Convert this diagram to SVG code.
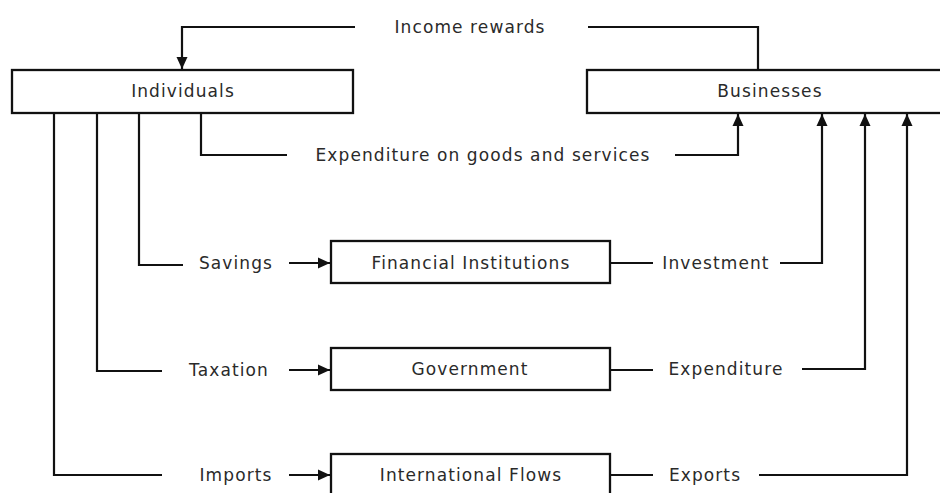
<svg xmlns="http://www.w3.org/2000/svg" width="940" height="493" viewBox="0 0 940 493">
<style>
.box{fill:#fff;stroke:#111;stroke-width:2.3}
.ln{fill:none;stroke:#111;stroke-width:2.2}
.t{font-family:"DejaVu Sans",Verdana,sans-serif;font-size:17px;letter-spacing:1.1px;fill:#2a2a2a;text-anchor:middle}
</style>
<defs>
<marker id="ah" markerUnits="userSpaceOnUse" markerWidth="13" markerHeight="13" viewBox="0 0 13 13" refX="12" refY="6.5" orient="auto">
<path d="M0,1 L12,6.5 L0,12 Z" fill="#111"/>
</marker>
</defs>
<rect width="940" height="493" fill="#fff"/>
<g id="connectors">
<path class="ln" d="M355,27 H182 V69" marker-end="url(#ah)"/>
<path class="ln" d="M588,27 H758 V70"/>
<path class="ln" d="M201,113 V155 H287"/>
<path class="ln" d="M675,155 H738 V114" marker-end="url(#ah)"/>
<path class="ln" d="M139,113 V265 H183"/>
<path class="ln" d="M289,263 H330" marker-end="url(#ah)"/>
<path class="ln" d="M610,263 H653"/>
<path class="ln" d="M780,263 H822 V114" marker-end="url(#ah)"/>
<path class="ln" d="M97,113 V371 H162"/>
<path class="ln" d="M289,370 H330" marker-end="url(#ah)"/>
<path class="ln" d="M610,370 H653"/>
<path class="ln" d="M802,369 H865 V114" marker-end="url(#ah)"/>
<path class="ln" d="M54,113 V475 H162"/>
<path class="ln" d="M289,475 H330" marker-end="url(#ah)"/>
<path class="ln" d="M610,475 H653"/>
<path class="ln" d="M759,475 H907 V114" marker-end="url(#ah)"/>
<text class="t" x="470" y="33">Income rewards</text>
<text class="t" x="483" y="161">Expenditure on goods and services</text>
<text class="t" x="236" y="269">Savings</text>
<text class="t" x="716" y="269">Investment</text>
<text class="t" x="229" y="376">Taxation</text>
<text class="t" x="726" y="375">Expenditure</text>
<text class="t" x="236" y="481">Imports</text>
<text class="t" x="705" y="481">Exports</text>
</g>
<g id="individuals">
<rect class="box" x="12" y="70" width="341" height="43"/>
<text class="t" x="183" y="97">Individuals</text>
</g>
<g id="businesses">
<rect class="box" x="587" y="70" width="360" height="43"/>
<text class="t" x="770" y="97">Businesses</text>
</g>
<g id="financial">
<rect class="box" x="331" y="241" width="279" height="42"/>
<text class="t" x="471" y="269">Financial Institutions</text>
</g>
<g id="government">
<rect class="box" x="331" y="348" width="279" height="42"/>
<text class="t" x="470" y="375">Government</text>
</g>
<g id="international">
<rect class="box" x="331" y="454" width="279" height="60"/>
<text class="t" x="471" y="481">International Flows</text>
</g>
</svg>
